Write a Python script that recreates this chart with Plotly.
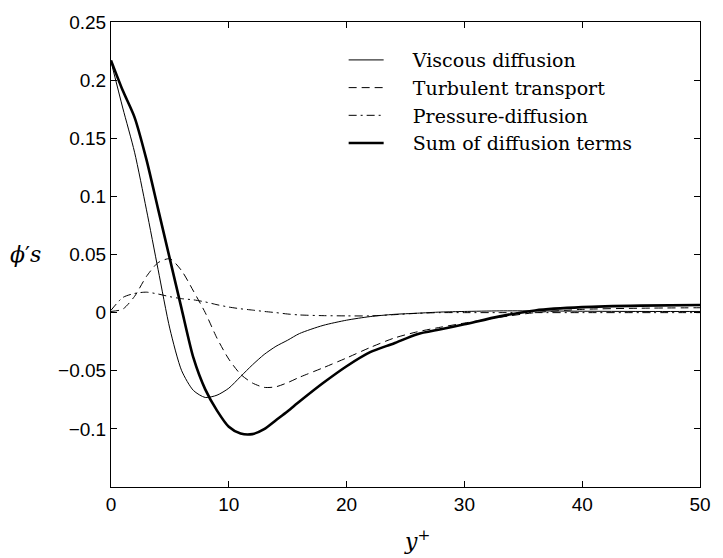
import plotly.graph_objects as go

yplus = [0, 1, 2, 3, 4, 5, 6, 7, 8, 9, 10, 11, 12, 13, 14, 15, 16, 18, 20, 22, 24, 26, 28, 30, 33, 36, 40, 45, 50]

viscous = [0.216, 0.176, 0.138, 0.089, 0.037, -0.014, -0.050, -0.067, -0.073, -0.071, -0.065, -0.055,
           -0.045, -0.036, -0.029, -0.0237, -0.018, -0.011, -0.0065, -0.0034, -0.0015, -0.0005, 0.0005,
           0.001, 0.0015, 0.0015, 0.0012, 0.001, 0.001]

turbulent = [0.001, 0.003, 0.014, 0.031, 0.043, 0.0463, 0.036, 0.0185, 0.000, -0.022, -0.040, -0.053,
             -0.0605, -0.0643, -0.0638, -0.0602, -0.0556, -0.0475, -0.039, -0.030, -0.022, -0.0165, -0.0125,
             -0.009, -0.004, 0.000, 0.0028, 0.0038, 0.0042]

pressure = [0.002, 0.013, 0.0165, 0.0176, 0.016, 0.0137, 0.012, 0.011, 0.0092, 0.0068, 0.0048, 0.0033,
            0.0022, 0.001, 0.0, -0.0012, -0.002, -0.0026, -0.0028, -0.0028, -0.0018, -0.0006, 0.0,
            0.0, 0.0, 0.0, 0.0, 0.0, 0.0]

total = [0.217, 0.191, 0.168, 0.132, 0.089, 0.046, 0.003, -0.039, -0.066, -0.0843, -0.0982, -0.104,
         -0.1045, -0.1002, -0.0925, -0.0848, -0.0765, -0.0606, -0.0461, -0.034, -0.0265, -0.0185, -0.0143,
         -0.010, -0.0032, 0.0019, 0.0047, 0.006, 0.0065]

names = ["Viscous diffusion", "Turbulent transport", "Pressure-diffusion", "Sum of diffusion terms"]
series = [viscous, turbulent, pressure, total]
dashes = ["solid", "8px,5px", "8px,4px,2px,4px", "solid"]
widths = [1, 1, 1, 2.6]

yticks = [0.25, 0.2, 0.15, 0.1, 0.05, 0, -0.05, -0.1]
ytext = ["0.25", "0.2", "0.15", "0.1", "0.05", "0", "\u22120.05", "\u22120.1"]
xticks = [0, 10, 20, 30, 40, 50]

GAP = "\u2007\u2007"

fig = go.Figure()
for n, s, d, w in zip(names, series, dashes, widths):
    fig.add_trace(go.Scatter(x=yplus, y=s, mode="lines", name=GAP + n,
                             line=dict(color="black", width=w, dash=d, shape="spline", smoothing=0.7)))

axis_common = dict(showgrid=False, zeroline=False, showline=True, linecolor="black", linewidth=1,
                   mirror="ticks", ticks="inside", ticklen=6, tickcolor="black",
                   tickfont=dict(family="Liberation Sans, Arial, sans-serif", size=19, color="black"))

fig.update_xaxes(range=[0, 50], tickvals=xticks, **axis_common)
fig.update_yaxes(range=[-0.15, 0.25], tickvals=yticks, ticktext=ytext, **axis_common)

fig.update_layout(
    width=723, height=558,
    margin=dict(l=111, r=15, t=14, b=71),
    paper_bgcolor="white", plot_bgcolor="white",
    showlegend=True,
    legend=dict(x=0.395, y=0.959, xanchor="left", yanchor="top", bgcolor="rgba(0,0,0,0)",
                font=dict(family="DejaVu Serif, serif", size=19, color="black"),
                itemwidth=35, tracegroupgap=0),
    annotations=[
        dict(text="<i>\u03d5</i>\u2032<i>s</i>", xref="paper", yref="paper", x=-0.146, y=0.50,
             xanchor="center", yanchor="middle",
             showarrow=False, font=dict(family="DejaVu Serif, serif", size=22, color="black")),
        dict(text="<i>y</i><sup>+</sup>", xref="paper", yref="paper", x=0.52, y=-0.115,
             xanchor="center", yanchor="middle", showarrow=False,
             font=dict(family="DejaVu Serif, serif", size=22, color="black")),
    ],
)

fig.write_html("out.html")
